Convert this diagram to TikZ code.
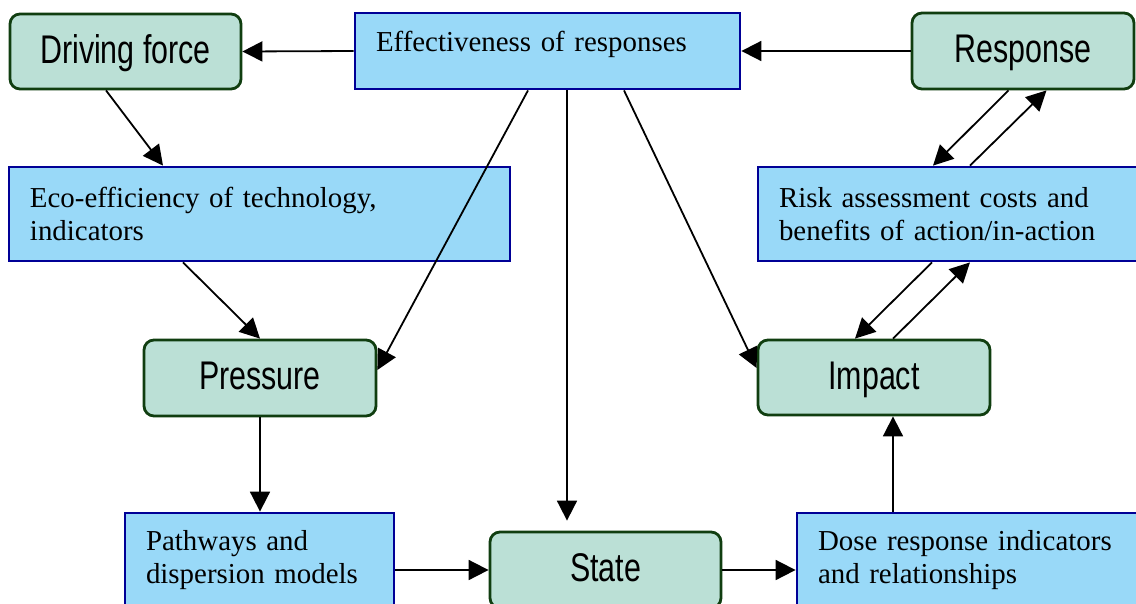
\documentclass[tikz,border=0pt]{standalone}
\usepackage{fontspec}
\setmainfont{Liberation Serif}
\newfontfamily\narrowsans[FakeStretch=0.76]{Liberation Sans}
\usetikzlibrary{arrows.meta}
\definecolor{gfill}{RGB}{187,224,214}
\definecolor{gline}{RGB}{16,62,16}
\definecolor{bfill}{RGB}{153,217,248}
\definecolor{bline}{RGB}{0,0,150}
\begin{document}
\begin{tikzpicture}[x=1pt,y=-1pt,
  gbox/.style={draw=gline, fill=gfill, line width=2.8pt, rounded corners=10pt,
    inner sep=0pt, font=\narrowsans\fontsize{40}{44}\selectfont,
    text height=29pt, text depth=6pt},
  bbox/.style={draw=bline, fill=bfill, line width=2.8pt, inner xsep=21pt,
    inner ysep=0pt, align=left, font=\fontsize{28.9}{32.5}\selectfont},
  conn/.style={line width=1.8pt, -{Triangle[length=20pt,width=20pt]}}]
\clip (0,0) rectangle (1136,603);
\fill[white] (0,0) rectangle (1136,603);
% green boxes
\node[gbox, minimum width=231pt, minimum height=75pt] (drive) at (125.5,51.5) {Driving force};
\node[gbox, minimum width=222pt, minimum height=76pt] (resp) at (1023,51) {Response};
\node[gbox, minimum width=232pt, minimum height=76pt] (press) at (260,378) {Pressure};
\node[gbox, minimum width=232pt, minimum height=75pt] (imp) at (874,377.5) {Impact};
\node[gbox, minimum width=231pt, minimum height=76pt] (state) at (605.5,570) {State};
% blue boxes
\node[bbox, text width=343pt, minimum height=76pt, text height=20pt, text depth=19pt] (eff) at (547.5,51) {Effectiveness of responses};
\node[bbox, text width=459pt, minimum height=94pt] (eco) at (259.5,214) {Eco-efficiency of technology,\\indicators};
\node[bbox, text width=350pt, minimum height=94pt] (risk) at (954,214) {Risk assessment costs and\\benefits of action/in-action};
\node[bbox, text width=227pt, minimum height=94pt] (path) at (259.5,560) {Pathways and\\dispersion models};
\node[bbox, text width=321pt, minimum height=94pt] (dose) at (978.5,560) {Dose response indicators\\and relationships};
% connectors
\draw[conn] (eff.west) -- (drive.east);
\draw[conn] (resp.west) -- (eff.east);
\draw[conn] ([xshift=-19.5pt]drive.south) -- ([xshift=-96.5pt]eco.north);
\draw[conn] ([xshift=-76.5pt]eco.south) -- (press.north);
\draw[conn] ([xshift=-19.5pt]eff.south) -- ([yshift=8pt]press.east);
\draw[conn, shorten >=10pt] ([xshift=19.5pt]eff.south) -- ([xshift=19.5pt]eff.south |- state.north);
\draw[conn] ([xshift=76.5pt]eff.south) -- ([yshift=9.5pt]imp.west);
\draw[conn] (press.south) -- (press.south |- path.north);
\draw[conn] (state.west -| path.east) -- (state.west);
\draw[conn] (state.east) -- (state.east -| dose.west);
\draw[conn] ([xshift=19pt]imp.south |- dose.north) -- ([xshift=19pt]imp.south);
\draw[conn] ([xshift=-22pt]risk.south) -- ([xshift=-19pt]imp.north);
\draw[conn] ([xshift=19pt]imp.north) -- ([xshift=16pt]risk.south);
\draw[conn] ([xshift=-14.5pt]resp.south) -- ([xshift=-21pt]risk.north);
\draw[conn] ([xshift=16pt]risk.north) -- ([xshift=23.5pt]resp.south);
\end{tikzpicture}
\end{document}
